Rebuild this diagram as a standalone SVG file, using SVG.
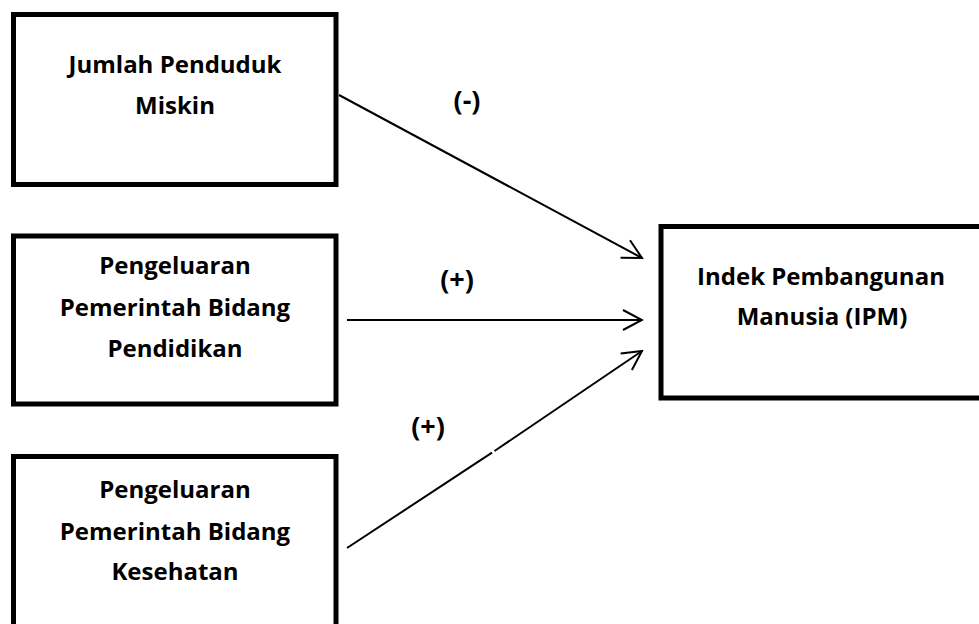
<svg xmlns="http://www.w3.org/2000/svg" width="979" height="624" viewBox="0 0 979 624">
<style>
.box{fill:#fff;stroke:#000;stroke-width:5}
.t{font-family:"Open Sans","Liberation Sans",sans-serif;font-weight:bold;font-size:24px;fill:#000;text-anchor:middle}
.l{font-size:27px}
.c{fill:none;stroke:#000;stroke-width:2}
</style>
<defs>
<marker id="arr" markerUnits="userSpaceOnUse" viewBox="-22 -12 24 24" refX="0" refY="0" markerWidth="24" markerHeight="24" orient="auto">
<path d="M-19,-10 L0,0 L-19,10" fill="none" stroke="#000" stroke-width="2"/>
</marker>
</defs>
<rect width="979" height="624" fill="#fff"/>
<g id="n1">
<rect class="box" x="13.5" y="14.5" width="322.5" height="170"/>
<text class="t" x="175" y="73">Jumlah Penduduk</text>
<text class="t" x="175" y="114">Miskin</text>
</g>
<g id="n2">
<rect class="box" x="13.5" y="236" width="322.5" height="168"/>
<text class="t" x="175" y="274">Pengeluaran</text>
<text class="t" x="175" y="316">Pemerintah Bidang</text>
<text class="t" x="175" y="357">Pendidikan</text>
</g>
<g id="n3">
<rect class="box" x="13.5" y="456.5" width="322.5" height="180"/>
<text class="t" x="175" y="498">Pengeluaran</text>
<text class="t" x="175" y="540">Pemerintah Bidang</text>
<text class="t" x="175" y="580">Kesehatan</text>
</g>
<g id="n4">
<rect class="box" x="661" y="226.5" width="340" height="171.5"/>
<text class="t" x="821" y="285">Indek Pembangunan</text>
<text class="t" x="822" y="325">Manusia (IPM)</text>
</g>
<g id="connectors">
<line class="c" x1="339" y1="95" x2="642" y2="258" marker-end="url(#arr)"/>
<line class="c" x1="347" y1="320" x2="642" y2="320" marker-end="url(#arr)"/>
<line class="c" x1="347" y1="548" x2="492" y2="452.7"/>
<line class="c" x1="494.5" y1="451" x2="642" y2="351" marker-end="url(#arr)"/>
</g>
<g id="labels">
<text class="t l" x="467" y="110">(-)</text>
<text class="t l" x="457" y="289">(+)</text>
<text class="t l" x="428" y="436">(+)</text>
</g>
</svg>
